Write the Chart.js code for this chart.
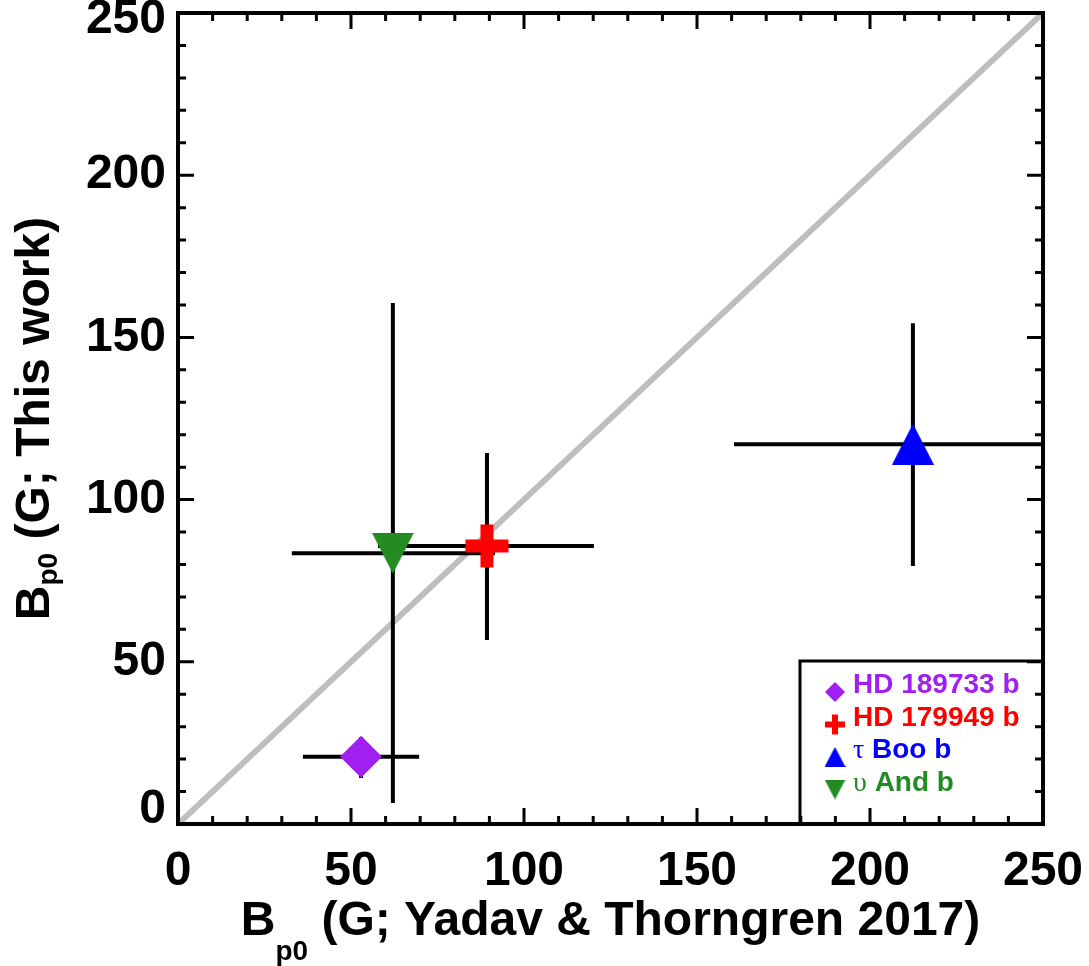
<!DOCTYPE html>
<html>
<head>
<meta charset="utf-8">
<script src="https://cdn.jsdelivr.net/npm/chart.js@4.4.1/dist/chart.umd.min.js"></script>
<style>
  html, body { margin: 0; padding: 0; background: #fff; }
  #wrap { width: 1089px; height: 966px; }
</style>
</head>
<body>
<div id="wrap"><canvas id="bpChart" width="1089" height="966"></canvas></div>
<script>
// values (Gauss)
const planets = ["HD 189733 b", "HD 179949 b", "τ Boo b", "υ And b"];
const colors = ["#a020f0", "#ff0000", "#0000ff", "#228b22"];
const bYadav = [52.9, 89.3, 212.4, 62.1];
const bYadavLo = [36.1, 57.8, 160.7, 32.9];
const bYadavHi = [69.7, 120.2, 264, 91.6];
const bThis = [20.7, 85.7, 117.1, 83.5];
const bThisLo = [14.2, 56.7, 79.5, 6.5];
const bThisHi = [26.8, 114.4, 154.4, 160.6];
const axisTicks = [0, 50, 100, 150, 200, 250];

const FONT = "'Liberation Sans', Arial, Helvetica, sans-serif";

// triangle markers drawn on small canvases
function triangle(w, h, color, up) {
  const c = document.createElement("canvas");
  c.width = w; c.height = h;
  const g = c.getContext("2d");
  g.fillStyle = color;
  g.beginPath();
  if (up) { g.moveTo(0, h); g.lineTo(w, h); g.lineTo(w / 2, 0); }
  else { g.moveTo(0, 0); g.lineTo(w, 0); g.lineTo(w / 2, h); }
  g.closePath();
  g.fill();
  return c;
}

const markStyle = ["rectRot", "cross", triangle(42, 41, colors[2], true), triangle(42, 41, colors[3], false)];
const markRadius = [21, 21.5, 21, 21];
const markBorder = [0, 13, 0, 0];
const legendStyle = ["rectRot", "cross", triangle(21, 20, colors[2], true), triangle(21, 20, colors[3], false)];

const datasets = [];
planets.forEach((name, i) => {
  datasets.push({
    type: "scatter",
    label: name,
    data: [{ x: bYadav[i], y: bThis[i] }],
    pointStyle: markStyle[i],
    pointRadius: markRadius[i],
    pointBorderWidth: markBorder[i],
    backgroundColor: colors[i],
    borderColor: colors[i],
    order: 0
  });
});
planets.forEach((name, i) => {
  datasets.push({
    type: "line",
    label: "",
    data: [{ x: bYadavLo[i], y: bThis[i] }, { x: bYadavHi[i], y: bThis[i] }],
    borderColor: "#000", borderWidth: 4, pointRadius: 0, order: 1
  });
  datasets.push({
    type: "line",
    label: "",
    data: [{ x: bYadav[i], y: bThisLo[i] }, { x: bYadav[i], y: bThisHi[i] }],
    borderColor: "#000", borderWidth: 4, pointRadius: 0, order: 1
  });
});
// one-to-one line
datasets.push({
  type: "line",
  label: "",
  data: [{ x: axisTicks[0], y: axisTicks[0] }, { x: axisTicks[axisTicks.length - 1], y: axisTicks[axisTicks.length - 1] }],
  borderColor: "#bebebe", borderWidth: 6, pointRadius: 0, order: 2
});

// box with inward major / minor ticks on all sides
const frame = {
  id: "frame",
  afterDatasetsDraw(chart) {
    const { ctx, chartArea: a, scales: { x, y } } = chart;
    ctx.save();
    ctx.strokeStyle = "#000";
    ctx.lineWidth = 3;
    ctx.beginPath();
    for (let v = x.min; v <= x.max; v += 10) {
      const len = v % 50 === 0 ? 16 : 8;
      const px = x.getPixelForValue(v);
      ctx.moveTo(px, a.bottom); ctx.lineTo(px, a.bottom - len);
      ctx.moveTo(px, a.top); ctx.lineTo(px, a.top + len);
    }
    for (let v = y.min; v <= y.max; v += 10) {
      const len = v % 50 === 0 ? 16 : 8;
      const py = y.getPixelForValue(v);
      ctx.moveTo(a.left, py); ctx.lineTo(a.left + len, py);
      ctx.moveTo(a.right, py); ctx.lineTo(a.right - len, py);
    }
    ctx.stroke();
    ctx.lineWidth = 4;
    ctx.strokeRect(a.left, a.top, a.right - a.left, a.bottom - a.top);
    ctx.restore();
  }
};

// "B" + subscript "p0" + rest, centred on (0,0) of the current transform
function subTitle(ctx, rest, drop) {
  ctx.font = "bold 48px " + FONT;
  const wB = ctx.measureText("B").width;
  const wR = ctx.measureText(rest).width;
  ctx.font = "bold 28px " + FONT;
  const wS = ctx.measureText("p0").width;
  let x0 = -(wB + wS + wR) / 2;
  ctx.textAlign = "left";
  ctx.textBaseline = "alphabetic";
  ctx.font = "bold 48px " + FONT;
  ctx.fillText("B", x0, 0);
  ctx.font = "bold 28px " + FONT;
  ctx.fillText("p0", x0 + wB, drop);
  ctx.font = "bold 48px " + FONT;
  ctx.fillText(rest, x0 + wB + wS, 0);
}

const titles = {
  id: "titles",
  afterDraw(chart) {
    const { ctx, chartArea: a } = chart;
    ctx.save();
    ctx.fillStyle = "#000";
    ctx.translate((a.left + a.right) / 2, 935);
    subTitle(ctx, " (G; Yadav & Thorngren 2017)", 25);
    ctx.restore();
    ctx.save();
    ctx.fillStyle = "#000";
    ctx.translate(49, (a.top + a.bottom) / 2);
    ctx.rotate(-Math.PI / 2);
    subTitle(ctx, " (G; This work)", 8);
    ctx.restore();
  }
};

// legend box in the lower right corner
const legendBox = {
  id: "legendBox",
  afterDraw(chart) {
    const { ctx, chartArea: a } = chart;
    const left = a.right - 243, top = a.bottom - 163;
    ctx.save();
    ctx.strokeStyle = "#000";
    ctx.lineWidth = 3;
    ctx.strokeRect(left, top, a.right - left, a.bottom - top);
    planets.forEach((name, i) => {
      const base = top + 32 + i * 32.5;
      const mx = left + 35, my = base - 1;
      ctx.fillStyle = colors[i];
      ctx.strokeStyle = colors[i];
      ctx.lineWidth = i === 1 ? 6 : 0;
      Chart.helpers.drawPoint(ctx, {
        pointStyle: legendStyle[i], radius: 10, rotation: 0, borderWidth: i === 1 ? 6 : 0
      }, mx, my);
      ctx.textAlign = "left";
      ctx.textBaseline = "alphabetic";
      let tx = left + 53;
      let txt = name;
      if (/^[\u0370-\u03ff]/.test(name)) {
        ctx.font = "28px 'Liberation Serif', 'DejaVu Serif', serif";
        ctx.fillText(name[0], tx, base);
        tx += ctx.measureText(name[0]).width;
        txt = name.slice(1);
      }
      ctx.font = "bold 28px " + FONT;
      ctx.fillText(txt, tx, base);
    });
    ctx.restore();
  }
};

const tickFont = { family: FONT, size: 48, weight: "bold" };
// keep Chart.js from reserving room for overhanging end labels
function noPad(s) {
  s.paddingLeft = 0; s.paddingRight = 0; s.paddingTop = 0; s.paddingBottom = 0;
}
const yMax = axisTicks[axisTicks.length - 1];

new Chart(document.getElementById("bpChart"), {
  type: "scatter",
  data: { datasets },
  options: {
    responsive: false,
    animation: false,
    events: [],
    layout: { autoPadding: false, padding: { top: 13, right: 46, left: 0, bottom: 0 } },
    plugins: { legend: { display: false }, tooltip: { enabled: false } },
    scales: {
      x: {
        type: "linear",
        min: 0, max: 250,
        afterBuildTicks: s => { s.ticks = axisTicks.map(v => ({ value: v })); },
        afterFit: s => { s.height = 142; noPad(s); },
        grid: { display: false, drawTicks: false },
        border: { display: false },
        ticks: { font: tickFont, color: "#000", padding: 19, maxRotation: 0, autoSkip: false }
      },
      y: {
        type: "linear",
        min: 0, max: 250,
        afterBuildTicks: s => { s.ticks = axisTicks.map(v => ({ value: v })); },
        afterFit: s => { s.width = 178; noPad(s); },
        grid: { display: false, drawTicks: false },
        border: { display: false },
        ticks: {
          color: "#000", padding: 12, autoSkip: false,
          // end labels sit inside the axis range, as in the original
          callback: v => v === yMax ? ["", String(v)] : v === 0 ? [String(v), ""] : String(v),
          font: c => ({ ...tickFont, lineHeight: c.tick && c.tick.value === 0 ? "28px" : "14px" })
        }
      }
    }
  },
  plugins: [frame, titles, legendBox]
});
</script>
</body>
</html>
